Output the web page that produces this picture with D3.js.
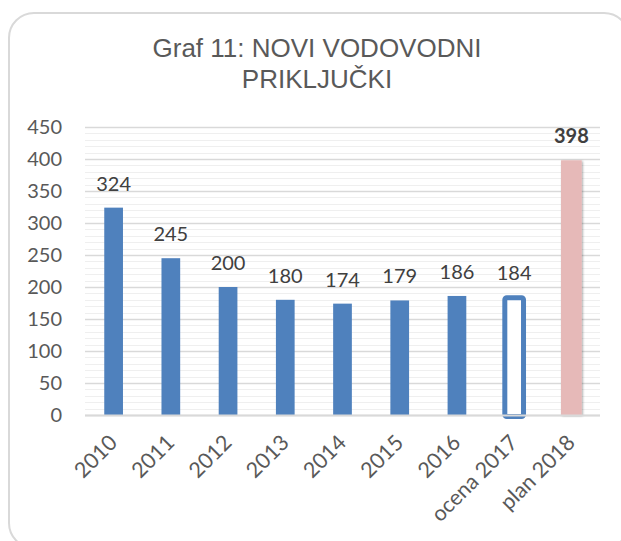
<!DOCTYPE html>
<html>
<head>
<meta charset="utf-8">
<script src="https://cdn.jsdelivr.net/npm/d3@7"></script>
<style>
  body { margin: 0; background: #fff; }
  svg { display: block; }
</style>
</head>
<body>
<div id="chart"></div>
<script>
// data
const categories = ["2010", "2011", "2012", "2013", "2014", "2015", "2016", "ocena 2017", "plan 2018"];
const values = [324, 245, 200, 180, 174, 179, 186, 184, 398];
// bar style per category: solid, outline (estimate) or plan
const barKinds = ["solid", "solid", "solid", "solid", "solid", "solid", "solid", "outline", "plan"];
const yTicks = [0, 50, 100, 150, 200, 250, 300, 350, 400, 450];
const titleLines = ["Graf 11: NOVI VODOVODNI", "PRIKLJUČKI"];

const width = 621;
const height = 541;
const margin = {top: 127, right: 21, bottom: 126, left: 85};

const blue = "#4F81BD";
const pink = "#E6B9B8";

const svg = d3.select("#chart")
    .append("svg")
    .attr("width", width)
    .attr("height", height);

// drop shadow for the plan bar
const defs = svg.append("defs");
const filter = defs.append("filter")
    .attr("id", "shadow")
    .attr("x", "-30%").attr("y", "-10%")
    .attr("width", "160%").attr("height", "120%");
filter.append("feDropShadow")
    .attr("dx", 1).attr("dy", 1)
    .attr("stdDeviation", 1.2)
    .attr("flood-color", "#000")
    .attr("flood-opacity", 0.35);

// card outline
svg.append("rect")
    .attr("x", 9)
    .attr("y", 13)
    .attr("width", 620)
    .attr("height", 535)
    .attr("rx", 25)
    .attr("fill", "#fff")
    .attr("stroke", "#d9d9d9")
    .attr("stroke-width", 2);

// title
svg.append("text")
    .attr("x", 317)
    .attr("y", 57)
    .attr("text-anchor", "middle")
    .attr("font-family", "Liberation Sans, Arial, sans-serif")
    .attr("font-size", 26)
    .attr("fill", "#595959")
    .selectAll("tspan")
    .data(titleLines)
    .join("tspan")
    .attr("x", 317)
    .attr("dy", (d, i) => i === 0 ? 0 : 31)
    .text(d => d);

const x = d3.scaleBand()
    .domain(categories)
    .range([margin.left, width - margin.right])
    .paddingInner(0.673)
    .paddingOuter(0.3365);

const y = d3.scaleLinear()
    .domain([0, 450])
    .range([height - margin.bottom, margin.top]);

// minor gridlines every 10
svg.append("g")
    .selectAll("line")
    .data(d3.range(10, 450, 10).filter(v => v % 50 !== 0))
    .join("line")
    .attr("x1", margin.left)
    .attr("x2", width - margin.right)
    .attr("y1", d => Math.round(y(d)) + 0.5)
    .attr("y2", d => Math.round(y(d)) + 0.5)
    .attr("stroke", "#efefef")
    .attr("stroke-width", 1);

// y axis (major gridlines)
const yAxis = svg.append("g")
    .attr("transform", `translate(${margin.left},0)`)
    .call(d3.axisLeft(y).tickValues(yTicks).tickSize(-(width - margin.left - margin.right)).tickPadding(23));
yAxis.select(".domain").remove();
yAxis.selectAll(".tick line")
    .attr("stroke", "#d9d9d9")
    .attr("stroke-width", 1.5);
yAxis.selectAll(".tick text")
    .attr("font-family", "Lato, sans-serif")
    .attr("font-size", 20)
    .attr("fill", "#595959");

// bars
const bars = svg.append("g")
    .selectAll("rect")
    .data(values)
    .join("rect")
    .attr("x", (d, i) => x(categories[i]))
    .attr("y", d => y(d))
    .attr("width", x.bandwidth())
    .attr("height", d => y(0) - y(d));

bars.filter((d, i) => barKinds[i] === "solid")
    .attr("fill", blue);

bars.filter((d, i) => barKinds[i] === "outline")
    .attr("y", d => y(d) + 0.5)
    .attr("height", d => y(0) - y(d) + 1)
    .attr("fill", "#fff")
    .attr("stroke", blue)
    .attr("stroke-width", 5)
    .attr("rx", 2);

bars.filter((d, i) => barKinds[i] === "plan")
    .attr("x", (d, i) => x(categories[8]) - 1)
    .attr("width", x.bandwidth() + 2)
    .attr("fill", pink)
    .attr("filter", "url(#shadow)");

// x axis baseline
svg.append("line")
    .attr("x1", margin.left)
    .attr("x2", width - margin.right)
    .attr("y1", y(0) + 0.5)
    .attr("y2", y(0) + 0.5)
    .attr("stroke", "#d9d9d9")
    .attr("stroke-width", 2);

// category labels, rotated
svg.append("g")
    .selectAll("text")
    .data(categories)
    .join("text")
    .attr("transform", d => `translate(${x(d) + x.bandwidth() / 2 + 5},${y(0) + 29}) rotate(-45)`)
    .attr("text-anchor", "end")
    .attr("font-family", "Lato, sans-serif")
    .attr("font-size", 21.5)
    .attr("fill", "#595959")
    .text(d => d);

// value labels
svg.append("g")
    .selectAll("text")
    .data(values)
    .join("text")
    .attr("x", (d, i) => x(categories[i]) + x.bandwidth() / 2)
    .attr("y", d => y(d) - 17)
    .attr("text-anchor", "middle")
    .attr("font-family", "Lato, sans-serif")
    .attr("font-size", 20)
    .attr("font-weight", (d, i) => barKinds[i] === "plan" ? "bold" : "normal")
    .attr("fill", "#404040")
    .text(d => d);
</script>
</body>
</html>
